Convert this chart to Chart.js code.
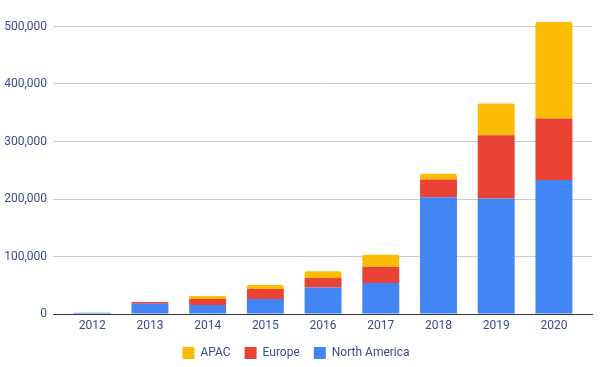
<!DOCTYPE html>
<html>
<head>
<meta charset="utf-8">
<script src="https://cdn.jsdelivr.net/npm/chart.js@4/dist/chart.umd.min.js"></script>
<style>
    html, body { margin: 0; padding: 0; background: #fff; }
    #wrap { width: 604px; height: 367px; }
</style>
</head>
<body>
<div id="wrap"><canvas id="revenue_plot"></canvas></div>
<script>
'use strict';

// values
const years = [2012, 2013, 2014, 2015, 2016, 2017, 2018, 2019, 2020];
const northAmerica = [2000, 18000, 15600, 26000, 46000, 54000, 203000, 201000, 233000];
const europe = [0, 3000, 10400, 17400, 16500, 28000, 31000, 110000, 107000];
const apac = [0, 0, 5200, 7000, 12000, 21000, 10000, 55000, 168000];
const yTicks = [0, 100000, 200000, 300000, 400000, 500000];

const textColor = '#3c4b8b';
const font = { family: 'Roboto', size: 12 };

function toPoints(values) {
    return values.map((v, i) => ({ x: years[i], y: v }));
}

const ctx = document.getElementById('revenue_plot').getContext('2d');

new Chart(ctx, {
    type: 'bar',
    data: {
        datasets: [
            { label: 'North America', data: toPoints(northAmerica), backgroundColor: '#4285f4' },
            { label: 'Europe', data: toPoints(europe), backgroundColor: '#ea4335' },
            { label: 'APAC', data: toPoints(apac), backgroundColor: '#fbbc04' }
        ]
    },
    options: {
        responsive: true,
        maintainAspectRatio: false,
        animation: false,
        layout: {
            padding: { top: 15, right: 12, bottom: -2, left: 0 }
        },
        datasets: {
            bar: {
                categoryPercentage: 0.64,
                barPercentage: 1,
                borderRadius: 2,
                borderSkipped: 'start'
            }
        },
        plugins: {
            legend: {
                position: 'bottom',
                reverse: true,
                labels: {
                    boxWidth: 12,
                    boxHeight: 12,
                    padding: 14,
                    color: textColor,
                    font: font
                }
            },
            tooltip: { enabled: false }
        },
        scales: {
            x: {
                type: 'linear',
                stacked: true,
                offset: false,
                min: years[0] - 0.68,
                max: years[years.length - 1] + 0.66,
                grid: { display: false, drawTicks: false },
                border: { display: true, color: '#333333', width: 1 },
                afterBuildTicks: scale => {
                    scale.ticks = years.map(y => ({ value: y }));
                },
                afterFit: scale => {
                    scale.height = 19;
                },
                ticks: {
                    color: textColor,
                    font: font,
                    padding: 5,
                    callback: v => String(v)
                }
            },
            y: {
                stacked: true,
                min: 0,
                max: 520000,
                afterBuildTicks: scale => {
                    scale.ticks = yTicks.map(v => ({ value: v }));
                },
                afterFit: scale => {
                    scale.width = 53;
                },
                grid: { color: '#cccccc', drawTicks: false },
                border: { display: false },
                ticks: {
                    color: textColor,
                    font: font,
                    padding: 6,
                    callback: v => v.toLocaleString('en-US')
                }
            }
        }
    }
});
</script>
</body>
</html>
